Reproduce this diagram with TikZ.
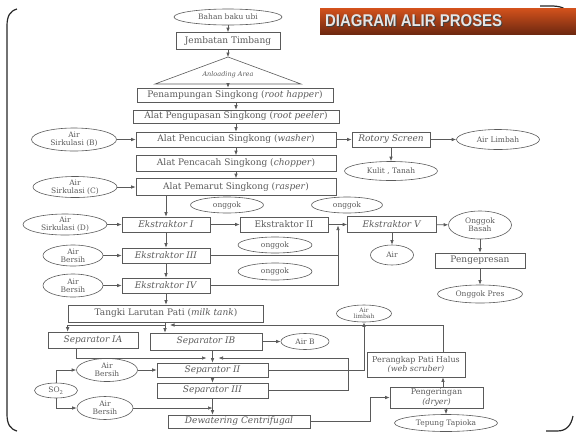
\documentclass[tikz,border=0pt]{standalone}
\usepackage{fontspec}
\setmainfont{DejaVu Serif}
\newfontfamily\titlefont{Liberation Sans}
\usepackage{tikz}
\usetikzlibrary{arrows.meta}
\usetikzlibrary{calc}
\usetikzlibrary{shapes.geometric}
\definecolor{ink}{HTML}{5A5A5A}
\definecolor{barTop}{HTML}{D4521C}
\definecolor{barBot}{HTML}{6E2810}
\tikzstyle{block} = [draw=ink, line width=0.6pt, text=ink, inner sep=0pt,
	align=center, font=\fontsize{9}{10}\selectfont]
\tikzstyle{pool} = [draw=ink, ellipse, line width=0.6pt, text=ink, inner sep=0pt,
	align=center, font=\fontsize{7.5}{8}\selectfont]
\tikzstyle{arrow} = [-{Latex[length=4.5pt, width=3.5pt]}, draw=ink, line width=0.6pt]
\tikzstyle{wire} = [draw=ink, line width=0.6pt]
\tikzstyle{frame} = [draw=black!85, line width=1.2pt]
\tikzstyle{title} = [anchor=west, inner sep=0pt, xscale=0.88,
	font=\titlefont\bfseries\fontsize{17}{17}\selectfont]

\begin{document}
\begin{tikzpicture}[x=1pt, y=-1pt]
	\useasboundingbox (0,0) rectangle (576,432);
	\draw [frame] (17,9) .. controls (10,11) and (7,16) .. (7,26) -- (7,414)
		.. controls (7,424) and (10,429) .. (17,431);
	\draw [frame] (540,6) -- (551,6) .. controls (560,6) and (566,8) .. (569,13);
	\draw [frame] (546,431) -- (557,431) .. controls (566,431) and (571,426) .. (573,416);
	\shade [top color=barTop, bottom color=barBot] (320,8) rectangle (576,34);
	\node (shadow) [title, text=black!75] at (326,22) {DIAGRAM ALIR PROSES};
	\node (heading) [title, text=white!90!black] at (325,21) {DIAGRAM ALIR PROSES};
	
	\node (bahan) [pool, minimum width=108pt, minimum height=16pt] at (228,17) {Bahan baku ubi};
	\node (jembatan) [block, minimum width=104pt, minimum height=17pt] at (228,41) {Jembatan Timbang};
	\coordinate (apex) at (228,57);
	\coordinate (baseL) at (155,84);
	\coordinate (baseR) at (301,84);
	\coordinate (baseM) at (228,84);
	\draw [wire] (apex) -- (baseR) -- (baseL) -- cycle;
	\node (unload) [text=ink, font=\itshape\fontsize{6.5}{7}\selectfont] at (228,75) {Anloading Area};
	\node (tampung) [block, minimum width=196pt, minimum height=14pt] at (235,95) {Penampungan Singkong (\textit{root happer})};
	\node (kupas) [block, minimum width=206pt, minimum height=13pt] at (236,116.5) {Alat Pengupasan Singkong (\textit{root peeler})};
	\node (cuci) [block, minimum width=200pt, minimum height=15pt] at (236,139.5) {Alat Pencucian Singkong (\textit{washer})};
	\node (cacah) [block, minimum width=200pt, minimum height=16pt] at (236,163.5) {Alat Pencacah Singkong (\textit{chopper})};
	\node (parut) [block, minimum width=200pt, minimum height=17pt] at (236,187) {Alat Pemarut Singkong (\textit{rasper})};
	
	\draw [arrow] (bahan) -- (jembatan);
	\draw [arrow] (jembatan) -- (apex);
	\draw [arrow] (baseM) -- (baseM |- tampung.north);
	\draw [arrow] (tampung.south -| cuci) -- (kupas.north -| cuci);
	\draw [arrow] (kupas.south -| cuci) -- (cuci);
	\draw [arrow] (cuci) -- (cacah);
	\draw [arrow] (cacah) -- (parut);
	
	\node (sirkB) [pool, minimum width=85pt, minimum height=23pt] at (74,139.5) {Air\\Sirkulasi (B)};
	\node (sirkC) [pool, minimum width=84pt, minimum height=21pt] at (75,187) {Air\\Sirkulasi (C)};
	\node (rotary) [block, minimum width=78pt, minimum height=15pt] at (391,139.5) {\textit{Rotory Screen}};
	\node (limbahA) [pool, minimum width=83pt, minimum height=20pt] at (498,139.5) {Air Limbah};
	\node (kulit) [pool, minimum width=93pt, minimum height=19pt] at (391,171) {Kulit , Tanah};
	\draw [arrow] (sirkB) -- (cuci);
	\draw [arrow] (sirkC) -- (parut);
	\draw [arrow] (cuci) -- (rotary);
	\draw [arrow] (rotary) -- (limbahA);
	\draw [arrow] (rotary) -- (kulit);
	
	\node (eks1) [block, minimum width=88pt, minimum height=15pt] at (166,224.5) {\textit{Ekstraktor I}};
	\node (eks2) [block, minimum width=88pt, minimum height=15pt] at (284,224.5) {Ekstraktor II};
	\node (eks5) [block, minimum width=89pt, minimum height=16pt] at (392,224.5) {\textit{Ekstraktor V}};
	\node (eks3) [block, minimum width=88pt, minimum height=15pt] at (166,255.5) {\textit{Ekstraktor III}};
	\node (eks4) [block, minimum width=88pt, minimum height=15pt] at (166,285.5) {\textit{Ekstraktor IV}};
	\node (ongA) [pool, minimum width=73pt, minimum height=16pt] at (227,205) {onggok};
	\node (ongB) [pool, minimum width=71pt, minimum height=16pt] at (347,205) {onggok};
	\node (ongC) [pool, minimum width=74pt, minimum height=16pt] at (275,245) {onggok};
	\node (ongD) [pool, minimum width=74pt, minimum height=17pt] at (275,271.5) {onggok};
	\node (sirkD) [pool, minimum width=84pt, minimum height=21pt] at (65,224.5) {Air\\Sirkulasi (D)};
	\node (bersih1) [pool, minimum width=60pt, minimum height=21pt] at (73,255.5) {Air\\Bersih};
	\node (bersih2) [pool, minimum width=60pt, minimum height=23pt] at (73,285.5) {Air\\Bersih};
	\node (air) [pool, minimum width=43pt, minimum height=20pt] at (392,255) {Air};
	\node (basah) [pool, minimum width=63pt, minimum height=28pt] at (480,225) {Onggok\\Basah};
	\node (press) [block, minimum width=90pt, minimum height=15pt] at (480,260.5) {Pengepresan};
	\node (ongpres) [pool, minimum width=85pt, minimum height=18pt] at (480,294) {Onggok Pres};
	\coordinate (merge) at (338,224.5);
	
	\draw [arrow] (parut.south -| eks1) -- (eks1);
	\draw [arrow] (sirkD) -- (eks1);
	\draw [arrow] (bersih1) -- (eks3);
	\draw [arrow] (bersih2) -- (eks4);
	\draw [arrow] (eks1) -- (eks3);
	\draw [arrow] (eks3) -- (eks4);
	\draw [arrow] (eks1) -- (eks2);
	\draw [arrow] (eks2) -- (eks5);
	\draw [wire] (eks3) -- (eks3 -| merge);
	\draw [arrow, shorten >=1pt] (eks4) -| (merge);
	\draw [arrow] (eks5) -- (air);
	\draw [arrow] (eks5) -- (basah);
	\draw [arrow] (basah) -- (press);
	\draw [arrow] (press) -- (ongpres);
	
	\node (tangki) [block, minimum width=195pt, minimum height=17pt] at (166,313.5) {Tangki Larutan Pati (\textit{milk tank})};
	\node (sep1a) [block, minimum width=90pt, minimum height=16pt] at (93,340) {\textit{Separator IA}};
	\node (sep1b) [block, minimum width=112pt, minimum height=17pt] at (206,341.5) {\textit{Separator IB}};
	\node (airB) [pool, minimum width=48pt, minimum height=16pt] at (305,341.5) {Air B};
	\node (sep2) [block, minimum width=111pt, minimum height=14pt] at (212.5,370) {\textit{Separator II}};
	\node (sep3) [block, minimum width=111pt, minimum height=15pt] at (212.5,390.5) {\textit{Separator III}};
	\node (bersih3) [pool, minimum width=61pt, minimum height=23pt] at (107,370) {Air\\Bersih};
	\node (so2) [pool, minimum width=43pt, minimum height=15pt] at (56,390.5) {SO\textsubscript{2}};
	\node (bersih4) [pool, minimum width=56pt, minimum height=23pt] at (105,408) {Air\\Bersih};
	\node (dewater) [block, minimum width=142pt, minimum height=13pt] at (239,421.5) {\textit{Dewatering Centrifugal}};
	\node (limbahB) [pool, minimum width=55pt, minimum height=17pt, font=\fontsize{6}{6.5}\selectfont] at (364,313.5) {Air\\limbah};
	\node (perangkap) [block, minimum width=98pt, minimum height=25pt, font=\fontsize{8}{9.5}\selectfont] at (416,364.5) {Perangkap Pati Halus\\\textit{(web scruber)}};
	\node (kering) [block, minimum width=93pt, minimum height=21pt, font=\fontsize{8}{9.5}\selectfont] at (436.5,397.5) {Pengeringan\\\textit{(dryer)}};
	\node (tepung) [pool, minimum width=103pt, minimum height=17pt] at (446,423) {Tepung Tapioka};
	\coordinate (split) at (165,325);
	\coordinate (splitR) at (170,325);
	\coordinate (join) at (212.5,358);
	\coordinate (loop) at (348,358);
	
	\draw [arrow] (eks4) -- (tangki);
	\draw [arrow] (tangki.south -| split) -- (sep1b.north -| split);
	\draw [arrow] (split) -| ($(sep1a.north west)!0.22!(sep1a.north east)$);
	\draw [arrow] ([xshift=27pt]perangkap.north) |- (splitR);
	\draw [arrow] (sep1b) -- (airB);
	\draw [arrow] ($(sep1a.south west)!0.32!(sep1a.south east)$) |- ([xshift=-6pt]join);
	\draw [arrow] (sep1b.south -| join) -- (sep2);
	\draw [arrow] (sep3) -| (loop) -- ([xshift=6pt]join);
	\draw [arrow] (bersih3) -- (sep2);
	\draw [arrow] (so2) |- (bersih3);
	\draw [arrow] (so2) |- (bersih4);
	\draw [arrow] (sep2) -- (sep3);
	\draw [arrow] (sep3.south) -- (sep3.south |- dewater.north);
	\draw [arrow] (bersih4) -- (bersih4 -| sep3);
	\draw [arrow] (sep2) -| (limbahB);
	\draw [arrow] (dewater.east) -- ++(60,0) |- (kering.west);
	\draw [arrow] ([xshift=6.5pt]kering.north) -- ([xshift=6.5pt]kering.north |- perangkap.south);
	\draw [arrow] (kering.south -| tepung) -- (tepung);
\end{tikzpicture}
\end{document}
